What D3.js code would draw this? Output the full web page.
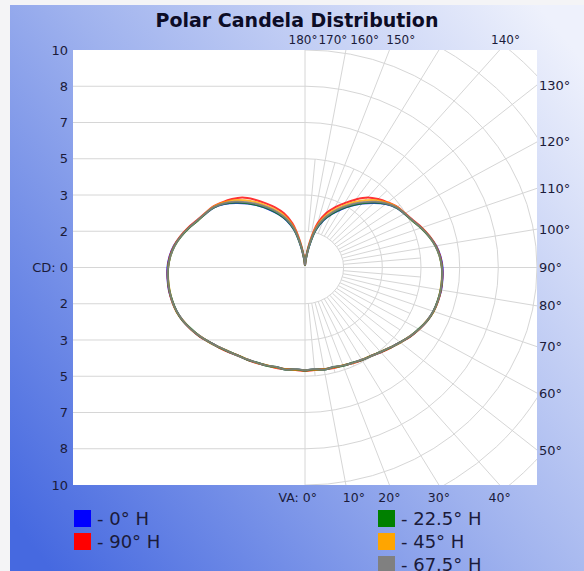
<!DOCTYPE html>
<html>
<head>
<meta charset="utf-8">
<script src="https://cdn.jsdelivr.net/npm/d3@7"></script>
<style>
  body { margin: 0; background: #f4f4f6; }
  svg { display: block; }
  text { font-family: "DejaVu Sans", Verdana, sans-serif; }
</style>
</head>
<body>
<div id="chart"></div>
<script>
// vertical angles (deg, 0 = nadir, 180 = zenith)
const vAngles = [0, 5, 10, 15, 20, 25, 30, 35, 40, 45, 50, 55, 60, 65, 70, 75, 80, 85, 90,
                 95, 100, 105, 110, 115, 120, 125, 130, 135, 140, 145, 150, 155, 160, 165, 170, 175, 180];

// candela values per horizontal plane
const cd0H    = [4.74, 4.71, 4.76, 4.75, 4.80, 4.84, 4.90, 4.97, 5.07, 5.20, 5.36, 5.52, 5.67, 5.80, 5.89, 5.93, 5.96, 5.95, 5.93,
                 5.86, 5.74, 5.54, 5.33, 5.11, 4.95, 4.80, 4.54, 4.20, 3.84, 3.47, 3.08, 2.70, 2.30, 1.78, 0.96, 0.34, 0.10];
const cd22_5H = [4.75, 4.70, 4.77, 4.74, 4.81, 4.83, 4.91, 4.96, 5.07, 5.21, 5.35, 5.53, 5.66, 5.81, 5.89, 5.92, 5.94, 5.93, 5.90,
                 5.83, 5.71, 5.53, 5.32, 5.10, 4.95, 4.80, 4.55, 4.22, 3.85, 3.48, 3.10, 2.72, 2.32, 1.80, 0.98, 0.35, 0.10];
const cd45H   = [4.73, 4.72, 4.75, 4.76, 4.79, 4.85, 4.89, 4.97, 5.06, 5.20, 5.37, 5.51, 5.68, 5.79, 5.90, 5.93, 5.93, 5.92, 5.90,
                 5.83, 5.72, 5.54, 5.33, 5.11, 4.97, 4.85, 4.64, 4.37, 4.03, 3.66, 3.27, 2.90, 2.50, 1.96, 1.10, 0.40, 0.10];
const cd67_5H = [4.74, 4.69, 4.77, 4.74, 4.80, 4.84, 4.90, 4.97, 5.07, 5.20, 5.36, 5.52, 5.67, 5.80, 5.89, 5.93, 5.94, 5.93, 5.90,
                 5.83, 5.71, 5.54, 5.33, 5.12, 4.96, 4.82, 4.58, 4.27, 3.92, 3.55, 3.17, 2.80, 2.40, 1.87, 1.03, 0.37, 0.10];
const cd90H   = [4.76, 4.73, 4.74, 4.78, 4.79, 4.86, 4.92, 4.96, 5.09, 5.22, 5.35, 5.54, 5.68, 5.81, 5.90, 5.94, 5.95, 5.94, 5.91,
                 5.85, 5.73, 5.56, 5.36, 5.14, 4.98, 4.86, 4.66, 4.45, 4.20, 3.82, 3.42, 3.05, 2.65, 2.10, 1.20, 0.45, 0.10];

const seriesNames  = ["0° H", "22.5° H", "45° H", "67.5° H", "90° H"];
const seriesValues = [cd0H, cd22_5H, cd45H, cd67_5H, cd90H];
const seriesColors = ["#0000ff", "#008000", "#ffa500", "#808080", "#ff0000"];

// candela rings and angle labels
const cdMax = 10;
const cdRings = [1.667, 3.333, 5, 6.667, 8.333, 10];
const topAngles = [180, 170, 160, 150, 140];
const rightAngles = [130, 120, 110, 100, 90, 80, 70, 60, 50];
const bottomAngles = [0, 10, 20, 30, 40];

const width = 584, height = 571;
const plot = { left: 73, top: 50, right: 537, bottom: 485 };
const cx = 305;
const cy = (plot.top + plot.bottom) / 2;
const rx = cx - plot.left;            // horizontal radius of cdMax
const ry = cy - plot.top;             // vertical radius of cdMax

const svg = d3.select("#chart").append("svg")
    .attr("width", width)
    .attr("height", height);

const defs = svg.append("defs");
const grad = defs.append("linearGradient")
    .attr("id", "bg")
    .attr("x1", "0%").attr("y1", "90%")
    .attr("x2", "100%").attr("y2", "10%");
grad.append("stop").attr("offset", "0%").attr("stop-color", "#4669e0");
grad.append("stop").attr("offset", "50%").attr("stop-color", "#9fb2ee");
grad.append("stop").attr("offset", "100%").attr("stop-color", "#eef1fc");

defs.append("clipPath").attr("id", "plotClip")
  .append("rect")
    .attr("x", plot.left).attr("y", plot.top)
    .attr("width", plot.right - plot.left)
    .attr("height", plot.bottom - plot.top);

svg.append("rect")
    .attr("x", 10).attr("y", 5)
    .attr("width", width - 10).attr("height", height)
    .attr("fill", "url(#bg)");

svg.append("rect")
    .attr("x", plot.left).attr("y", plot.top)
    .attr("width", plot.right - plot.left)
    .attr("height", plot.bottom - plot.top)
    .attr("fill", "#ffffff");

// scales
const sx = d3.scaleLinear().domain([0, cdMax]).range([0, rx]);
const sy = d3.scaleLinear().domain([0, cdMax]).range([0, ry]);
const rad = d => d * Math.PI / 180;
const px = (v, a) => cx + sx(v) * Math.sin(rad(a));
const py = (v, a) => cy + sy(v) * Math.cos(rad(a));

const grid = svg.append("g")
    .attr("clip-path", "url(#plotClip)")
    .attr("fill", "none")
    .attr("stroke", "#d6d6d6")
    .attr("stroke-width", 1);

// left half: horizontal lines
cdRings.slice(0, -1).forEach(v => {
  grid.append("line")
      .attr("x1", plot.left).attr("x2", cx)
      .attr("y1", cy - sy(v)).attr("y2", cy - sy(v));
  grid.append("line")
      .attr("x1", plot.left).attr("x2", cx)
      .attr("y1", cy + sy(v)).attr("y2", cy + sy(v));
});
grid.append("line")
    .attr("x1", plot.left).attr("x2", plot.right)
    .attr("y1", cy).attr("y2", cy);
grid.append("line")
    .attr("x1", cx).attr("x2", cx)
    .attr("y1", plot.top).attr("y2", plot.bottom);

// right half: elliptical rings
const ringStep = cdRings[0];
d3.range(1, 9).forEach(k => {
  const v = k * ringStep;
  grid.append("path")
      .attr("d", `M${cx},${cy - sy(v)} A${sx(v)},${sy(v)} 0 0 1 ${cx},${cy + sy(v)}`);
});

// right half: radial lines
d3.range(5, 180, 5).forEach(a => {
  if (a === 90) return;
  const v1 = a % 10 === 0 ? cdMax * 2 : cdRings[2];
  grid.append("line")
      .attr("x1", px(cdRings[0], a)).attr("y1", py(cdRings[0], a))
      .attr("x2", px(v1, a)).attr("y2", py(v1, a));
});

// candela curves
const line = d3.line()
    .x(d => d[0]).y(d => d[1])
    .curve(d3.curveCatmullRom.alpha(0.5));

const curves = svg.append("g")
    .attr("clip-path", "url(#plotClip)")
    .attr("fill", "none")
    .attr("stroke-width", 2)
    .attr("stroke-linejoin", "round");

const drawOrder = [0, 4, 2, 1, 3];
drawOrder.forEach(i => {
  const vals = seriesValues[i];
  const right = vAngles.map((a, j) => [px(vals[j], a), py(vals[j], a)]);
  const left = vAngles.map((a, j) => [2 * cx - px(vals[j], a), py(vals[j], a)]);
  [right, left].forEach(pts => {
    curves.append("path")
        .attr("d", line(pts))
        .attr("stroke", seriesColors[i])
        .attr("stroke-opacity", i === 3 ? 0.9 : 0.8);
  });
});

// axis labels
const labelColor = "#1b1b3a";
const fmt = d3.format(".0f");

const leftLabels = svg.append("g")
    .attr("font-size", 13)
    .attr("fill", labelColor)
    .attr("text-anchor", "end");
leftLabels.append("text")
    .attr("x", 68).attr("y", cy)
    .attr("dy", "0.35em")
    .text("CD: 0");
cdRings.forEach(v => {
  [-1, 1].forEach(s => {
    leftLabels.append("text")
        .attr("x", 68).attr("y", cy + s * sy(v))
        .attr("dy", "0.35em")
        .text(fmt(v));
  });
});

const angleLabels = svg.append("g")
    .attr("font-size", 12)
    .attr("fill", labelColor);

// top labels sit packed toward the zenith line, the outermost one at its grid line
topAngles.forEach(a => {
  const phi = 180 - a;
  const k = phi < 40 ? 0.73 : 1.04;
  angleLabels.append("text")
      .attr("x", cx - 2 + rx * Math.tan(rad(phi)) * k)
      .attr("y", plot.top - 10)
      .attr("dy", "0.35em")
      .attr("text-anchor", "middle")
      .text(a + "°");
});

rightAngles.forEach(a => {
  angleLabels.append("text")
      .attr("x", plot.right + 2)
      .attr("y", cy - ry * Math.tan(rad(a - 90)))
      .attr("dy", "0.35em")
      .attr("font-size", 13)
      .text(a + "°");
});

bottomAngles.forEach(a => {
  const t = angleLabels.append("text")
      .attr("y", plot.bottom + 13)
      .attr("dy", "0.35em")
      .attr("font-size", 12.5);
  if (a === 0) {
    t.attr("x", cx + 12).attr("text-anchor", "end").text("VA: 0°");
  } else {
    t.attr("x", cx + rx * Math.tan(rad(a)) + (a === 10 ? 8 : 0))
     .attr("text-anchor", "middle").text(a + "°");
  }
});

// title
svg.append("text")
    .attr("x", 297).attr("y", 27)
    .attr("text-anchor", "middle")
    .attr("font-size", 19)
    .attr("font-weight", "bold")
    .attr("fill", "#0c0c26")
    .text("Polar Candela Distribution");

// legend
const legendSlots = [[0, 0], [1, 0], [1, 1], [1, 2], [0, 1]];
const legend = svg.append("g")
    .attr("font-size", 18)
    .attr("fill", labelColor);
seriesNames.forEach((name, i) => {
  const [col, row] = legendSlots[i];
  const x = col === 0 ? 74 : 378;
  const y = 510 + row * 23;
  legend.append("rect")
      .attr("x", x).attr("y", y)
      .attr("width", 17).attr("height", 17)
      .attr("fill", seriesColors[i]);
  legend.append("text")
      .attr("x", x + 23).attr("y", y + 9)
      .attr("dy", "0.35em")
      .text("- " + name);
});
</script>
</body>
</html>
